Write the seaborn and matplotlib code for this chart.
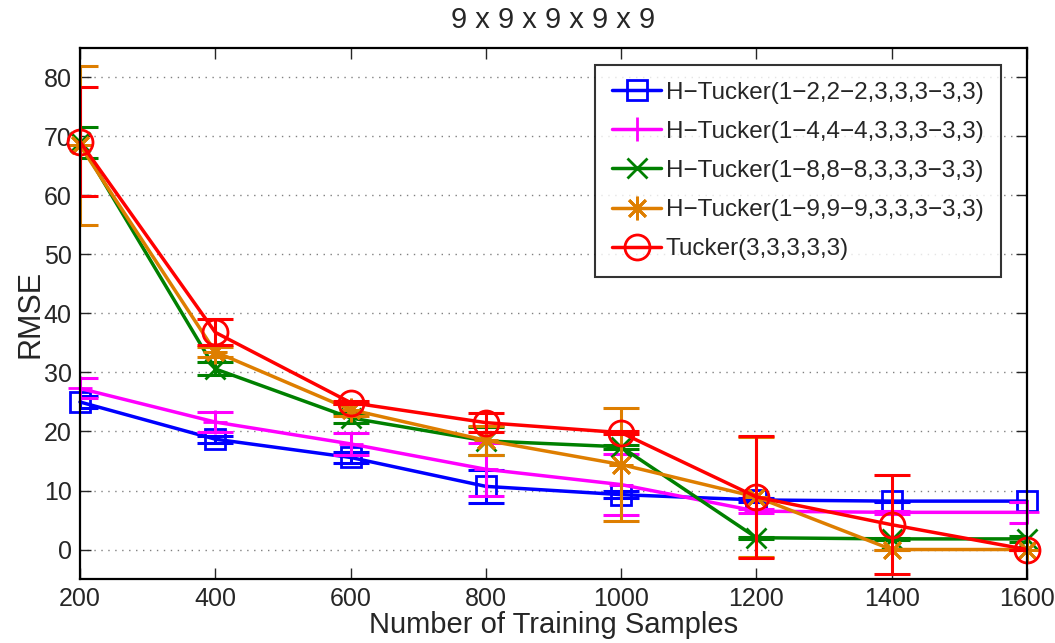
import numpy as np
import pandas as pd
import seaborn as sns
import matplotlib
matplotlib.use("Agg")
import matplotlib.pyplot as plt

# data
samples = [200, 400, 600, 800, 1000, 1200, 1400, 1600]

labels = ["H\u2212Tucker(1\u22122,2\u22122,3,3,3\u22123,3)",
          "H\u2212Tucker(1\u22124,4\u22124,3,3,3\u22123,3)",
          "H\u2212Tucker(1\u22128,8\u22128,3,3,3\u22123,3)",
          "H\u2212Tucker(1\u22129,9\u22129,3,3,3\u22123,3)",
          "Tucker(3,3,3,3,3)"]

rmse_h2 = [25.0, 18.7, 15.6, 10.7, 9.3, 8.4, 8.2, 8.2]
err_h2 = [1.0, 0.6, 1.0, 2.8, 0.6, 0.3, 0.1, 0.1]
rmse_h4 = [27.3, 21.6, 17.9, 13.6, 11.0, 6.5, 6.3, 6.3]
err_h4 = [1.7, 1.7, 1.8, 4.5, 5.2, 0.3, 0.2, 1.8]
rmse_h8 = [69.0, 30.6, 22.3, 18.4, 17.4, 2.0, 1.8, 1.8]
err_h8 = [2.6, 1.1, 0.8, 2.4, 0.3, 0.2, 0.2, 0.5]
rmse_h9 = [68.5, 33.5, 23.7, 18.5, 14.4, 8.9, 0.0, 0.0]
err_h9 = [13.5, 0.8, 1.0, 2.4, 9.6, 10.1, 0.0, 0.0]
rmse_tk = [69.1, 36.8, 24.9, 21.5, 19.8, 8.9, 4.2, 0.0]
err_tk = [9.2, 2.2, 0.3, 1.6, 0.3, 10.4, 8.4, 0.0]

series = [rmse_h2, rmse_h4, rmse_h8, rmse_h9, rmse_tk]
errors = [err_h2, err_h4, err_h8, err_h9, err_tk]
colors = ["#0000ff", "#ff00ff", "#008000", "#de7e00", "#ff0000"]
markers = ["s", "+", "x", (8, 2, 0), "o"]
msizes = [14, 17, 14, 17, 18]

sns.set_style("ticks")
plt.rcParams['font.family'] = ['Liberation Sans', 'DejaVu Sans']

fig = plt.figure(figsize=(10.55, 6.43), dpi=100)
ax = fig.add_axes([0.0758, 0.0995, 0.8977, 0.826])

for vals, errs, lab, c, m, ms in zip(series, errors, labels, colors, markers, msizes):
    sns.lineplot(x=samples, y=vals, ax=ax, color=c, marker=m, markersize=ms,
                 markerfacecolor="none", markeredgecolor=c, markeredgewidth=2,
                 linewidth=2.5, label=lab, clip_on=False)
    ax.errorbar(samples, vals, yerr=errs, fmt="none", ecolor=c, elinewidth=2.2,
                capsize=13, capthick=2.2)

ax.set_xlim(200, 1600)
ax.set_ylim(-5, 85)
ax.set_xticks(range(200, 1601, 200))
ax.set_yticks(range(0, 81, 10))
ax.yaxis.grid(True, linestyle=(0, (1, 4)), color="gray", linewidth=1)
ax.tick_params(direction="in", top=True, right=True, length=8, width=1,
               labelsize=18, pad=6)
for s in ax.spines.values():
    s.set_linewidth(1.6)
    s.set_color("black")

ax.set_title("9 x 9 x 9 x 9 x 9", fontsize=21, pad=14)
ax.set_xlabel("Number of Training Samples", fontsize=21, labelpad=0)
ax.set_ylabel("RMSE", fontsize=22, labelpad=-1)

leg = ax.legend(loc="upper right", bbox_to_anchor=(0.972, 0.968), borderaxespad=0,
                fontsize=17.5, frameon=True, fancybox=False, edgecolor="black",
                labelspacing=0.7, handlelength=2.0, handletextpad=0.2,
                borderpad=0.7)
leg.get_frame().set_linewidth(1.5)

fig.savefig("out.png", dpi=100)
